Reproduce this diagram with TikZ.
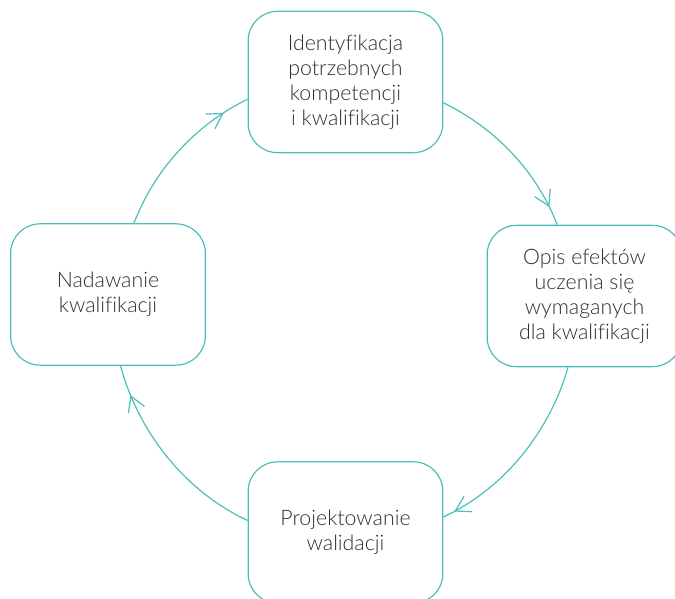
\documentclass[tikz,border=0pt]{standalone}
\usepackage{fontspec}
\setmainfont{Lato Light}[Ligatures=NoCommon]
\usepackage{xcolor}
\usetikzlibrary{arrows.meta,positioning,calc,decorations.markings}
\definecolor{cyklteal}{HTML}{4DBFB9}
\definecolor{cykltext}{HTML}{2E2E2E}

\tikzset{
  etap/.style={draw=cyklteal, line width=0.9pt, rounded corners=22pt,
    minimum width=146pt, minimum height=106pt, align=center,
    text=cykltext, font=\fontsize{16}{18.75}\selectfont, inner sep=2pt},
  przejscie/.style={draw=cyklteal, line width=0.9pt, looseness=0.88,
    postaction={decorate}, decoration={markings, mark=at position #1 with
    {\arrow{Straight Barb[length=11pt,width=13pt,line width=0.9pt]}}}},
}

\begin{document}
\begin{tikzpicture}[x=0.75pt,y=0.75pt]
	\useasboundingbox (0,0) rectangle (675,599);
	
	% etapy cyklu
	\node[etap] (ident) at (345.5,517) {Identyfikacja\\potrzebnych\\kompetencji\\i kwalifikacji};
	\node[etap] (opis) at (584.5,303) {Opis efektów\\uczenia się\\wymaganych\\dla kwalifikacji};
	\node[etap] (proj) at (345.5,66.5) {Projektowanie\\walidacji};
	\node[etap] (nad) at (108,304.5) {Nadawanie\\kwalifikacji};
	
	% przejscia
	\draw[przejscie=0.887] (ident.-12) to[out=-26,in=111] (opis.111);
	\draw[przejscie=0.94] (opis.-103) to[out=-106,in=25] (proj.9);
	\draw[przejscie=0.85] (proj.173) to[out=155,in=-75] (nad.-80);
	\draw[przejscie=0.84] (nad.70) to[out=69,in=206] (ident.190);
\end{tikzpicture}
\end{document}
